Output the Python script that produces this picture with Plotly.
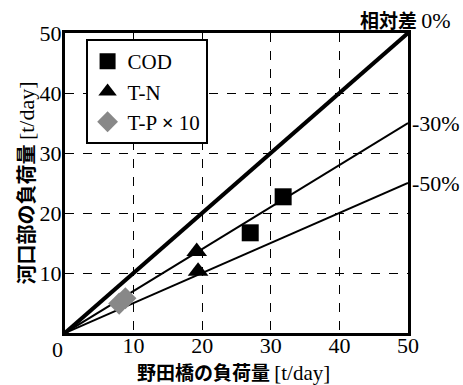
import plotly.graph_objects as go

cod_x = [27.0, 31.8]
cod_y = [16.7, 22.7]
tn_x = [19.2, 19.4]
tn_y = [13.6, 10.3]
tp_x = [7.9, 8.8]
tp_y = [4.9, 5.8]
ratios = [1.0, 0.7, 0.5]
ratio_labels = ["相対差 0%", "-30%", "-50%"]
line_widths = [4, 2, 2]
ticks = [10, 20, 30, 40, 50]

SERIF = "Liberation Serif"
CJK = "Noto Sans CJK JP"

fig = go.Figure()
for r, w in zip(ratios, line_widths):
    fig.add_trace(go.Scatter(x=[0, 50], y=[0, 50 * r], mode="lines",
                             line=dict(color="black", width=w), showlegend=False,
                             hoverinfo="skip"))

fig.add_trace(go.Scatter(x=cod_x, y=cod_y, mode="markers", name="COD",
                         marker=dict(symbol="square", size=17, color="black")))
fig.add_trace(go.Scatter(x=tn_x, y=tn_y, mode="markers", name="T-N",
                         marker=dict(symbol="triangle-up", size=18, color="black")))
fig.add_trace(go.Scatter(x=tp_x, y=tp_y, mode="markers", name="T-P <b>×</b> 10",
                         marker=dict(symbol="diamond", size=17, color="#888888")))

axis_common = dict(range=[0, 50], tickvals=ticks, showgrid=True, gridcolor="black",
                   griddash="dash", gridwidth=1, showline=True, linecolor="black",
                   linewidth=3, mirror=True, ticks="", ticklen=0, zeroline=False,
                   tickfont=dict(family=SERIF, size=22, color="black"))

fig.update_xaxes(**axis_common, ticklabelstandoff=-9)
fig.update_yaxes(**axis_common, ticklabelstandoff=-4)

fig.update_layout(
    width=463, height=385,
    margin=dict(l=65, r=55, t=33, b=52),
    plot_bgcolor="white", paper_bgcolor="white",
    legend=dict(x=0.06, y=0.98, xanchor="left", yanchor="top",
                bordercolor="black", borderwidth=2, bgcolor="white",
                font=dict(family=SERIF, size=21, color="black"),
                itemsizing="trace", tracegroupgap=0, itemwidth=30),
    showlegend=True,
)

fig.update_layout(
    yaxis_title=dict(text=f"<b>河口部の負荷量</b> <span style='font-family:{SERIF};font-size:22px'>[t/day]</span>",
                     font=dict(family=CJK, size=20, color="black"), standoff=0),
)

# x axis title as annotation near bottom
fig.add_annotation(x=0.5, y=0, xref="paper", yref="paper", yanchor="bottom",
                   yshift=-54, xshift=-3, showarrow=False,
                   text=f"<b>野田橋の負荷量</b> <span style='font-family:{SERIF};font-size:21px'>[t/day]</span>",
                   font=dict(family=CJK, size=19, color="black"))

# zero label at corner
fig.add_annotation(x=0, y=0, xref="x", yref="y", text="0", showarrow=False,
                   xanchor="right", yanchor="top", xshift=0, yshift=-2,
                   font=dict(family=SERIF, size=22, color="black"))

# ratio labels
for r, lab in zip(ratios, ratio_labels):
    if r == 1.0:
        fig.add_annotation(x=50, y=50, xref="x", yref="y",
                           text=f"<b>相対差</b> <span style='font-family:{SERIF};font-size:22px'>0%</span>",
                           showarrow=False, xanchor="center", yanchor="bottom", yshift=-2,
                           xshift=-3,
                           font=dict(family=CJK, size=19, color="black"))
    else:
        fig.add_annotation(x=50, y=50 * r, xref="x", yref="y", text=lab, showarrow=False,
                           xanchor="left", yanchor="middle", xshift=2,
                           font=dict(family=SERIF, size=22, color="black"))

fig.write_html("out.html")
